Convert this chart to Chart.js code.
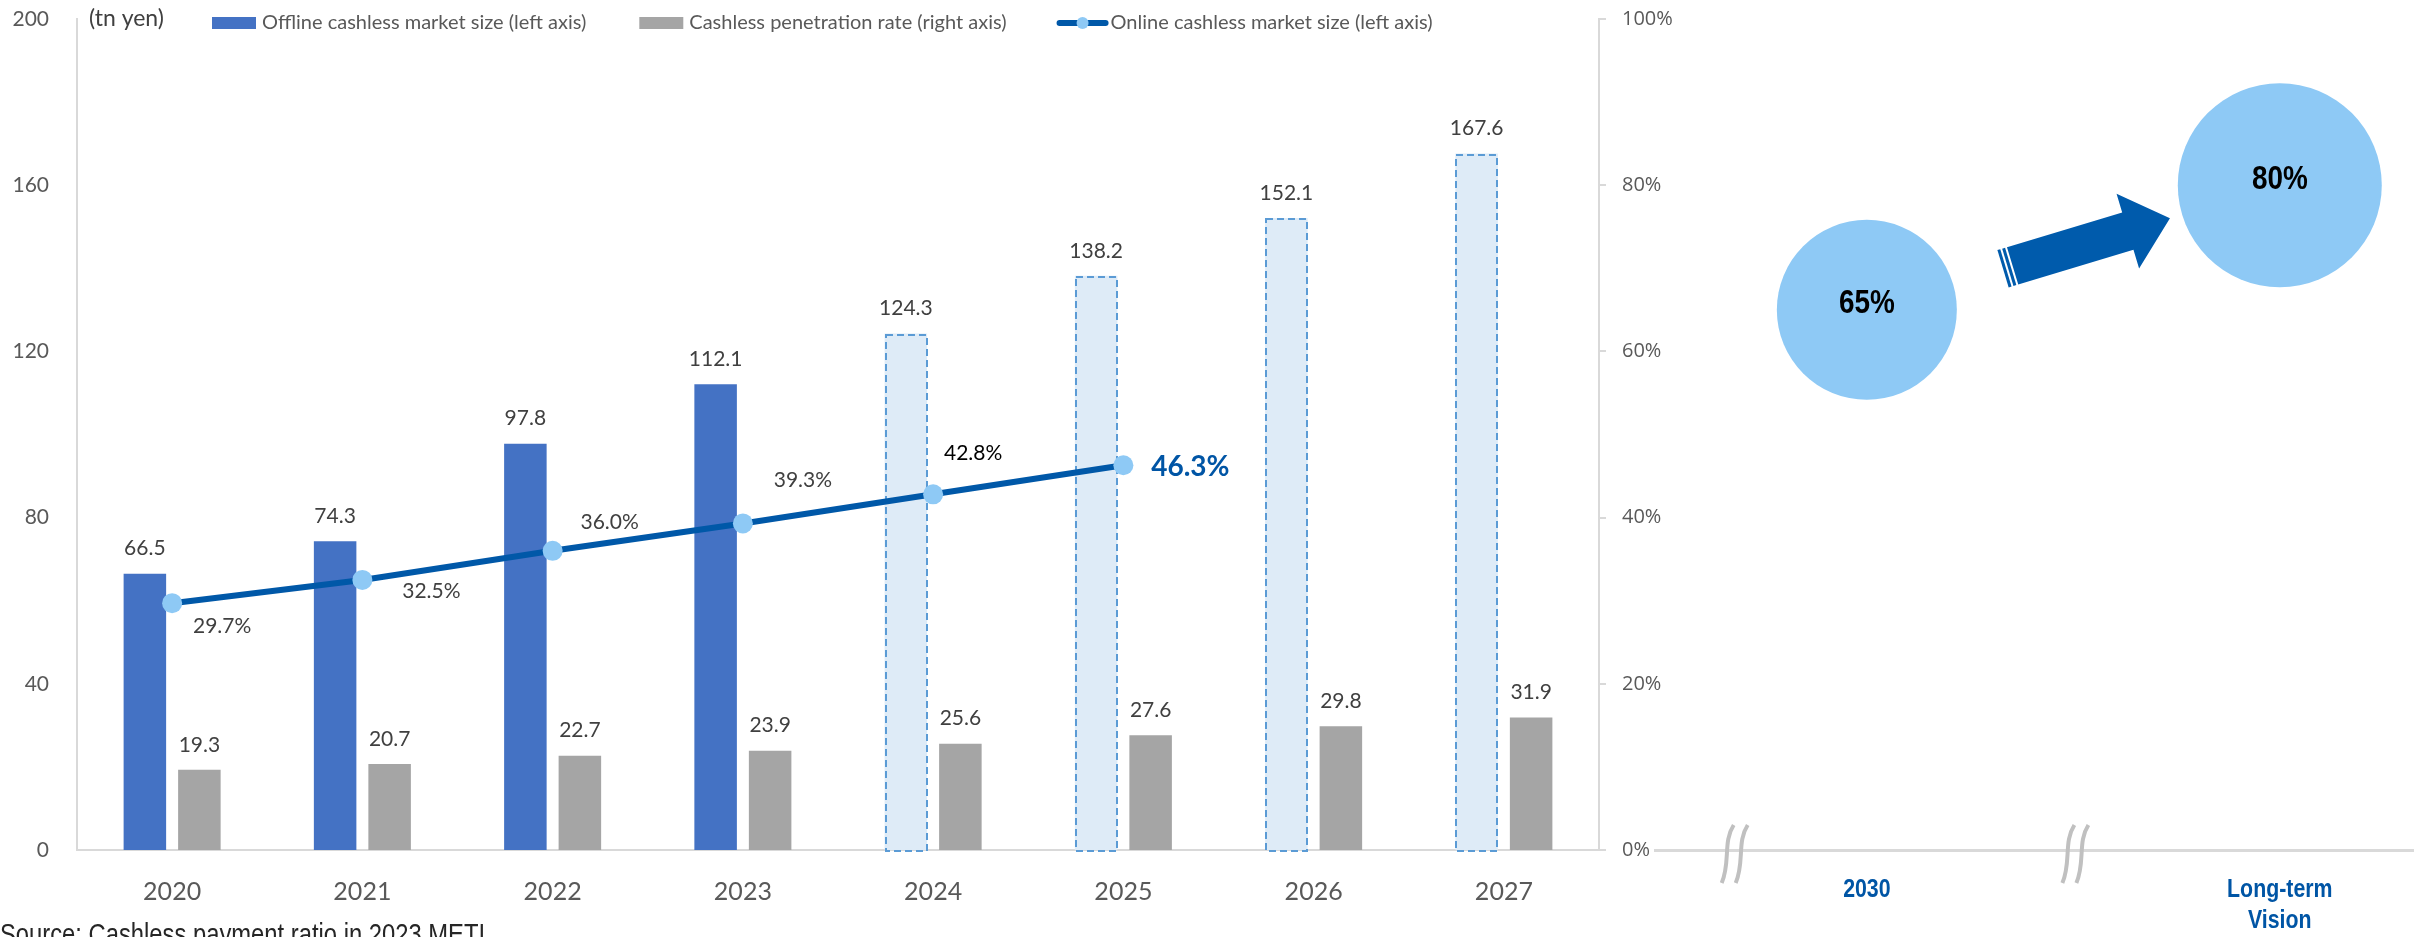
<!DOCTYPE html>
<html>
<head>
<meta charset="utf-8">
<script src="https://cdn.jsdelivr.net/npm/chart.js@4.4.1/dist/chart.umd.min.js"></script>
<style>
html,body{margin:0;padding:0;background:#fff;overflow:hidden;}
#wrap{position:relative;width:2414px;height:937px;background:#fff;}
#c1{position:absolute;left:0;top:0;}
#c2{position:absolute;left:1599px;top:0;}
</style>
</head>
<body>
<div id="wrap">
  <canvas id="c1" width="1700" height="937"></canvas>
  <canvas id="c2" width="815" height="937"></canvas>
</div>
<script>
// ---------------- data ----------------
const years = ['2020','2021','2022','2023','2024','2025','2026','2027'];
const offlineSize = [66.5, 74.3, 97.8, 112.1, 124.3, 138.2, 152.1, 167.6];
const grayBars = [19.3, 20.7, 22.7, 23.9, 25.6, 27.6, 29.8, 31.9];
const onlineRate = [29.7, 32.5, 36.0, 39.3, 42.8, 46.3, null, null];
const firstForecast = '2024';
const leftTicks = [0, 40, 80, 120, 160, 200];
const rightTicks = [0, 20, 40, 60, 80, 100];
const visionCats = ['2030', 'Long-term Vision'];
const visionRate = [65, 80];
const seriesNames = [
  'Offline cashless market size (left axis)',
  'Cashless penetration rate (right axis)',
  'Online cashless market size (left axis)'
];
const unitLabel = '(tn yen)';
const sourceNote = 'Source: Cashless payment ratio in 2023 METI';

// ---------------- styles ----------------
const C = {
  blue:'#4472C4', gray:'#A5A5A5', fcFill:'#DEEBF7', fcBorder:'#5B9BD5',
  line:'#0058A8', point:'#8EC9F5', axis:'#D9D9D9', tick:'#595959',
  label:'#404040', accent:'#0055A5', arrow:'#005BAC', brk:'#C0C0C0'
};
function hasFont(name){
  const c = document.createElement('canvas').getContext('2d');
  const s = 'abcdefghijklmnopqrstuvwxyzABCDEFGHIJ0123456789';
  c.font = '72px monospace'; const a = c.measureText(s).width;
  c.font = `72px "${name}", monospace`; const b = c.measureText(s).width;
  return Math.abs(a-b) > 1;
}
const NARROW_OK = hasFont('Liberation Sans Narrow');
const F = {
  cal: "Lato, 'Open Sans', sans-serif",
  seg: "'Open Sans', Lato, sans-serif",
  narrow: NARROW_OK ? "'Liberation Sans Narrow', 'Liberation Sans', sans-serif" : "'Liberation Sans', Arial, sans-serif",
  k: NARROW_OK ? 1 : 0.82
};
// draw text in a narrow (Arial Narrow-like) face
function narrowText(ctx, text, x, y, size, weight, color, align, baseline){
  ctx.save();
  ctx.translate(x, y);
  ctx.scale(F.k, 1);
  ctx.font = `${weight} ${size}px ${F.narrow}`;
  ctx.fillStyle = color;
  ctx.textAlign = align; ctx.textBaseline = baseline;
  ctx.fillText(text, 0, 0);
  ctx.restore();
}
const fc = years.indexOf(firstForecast);

const LINE_LABEL_STYLE = [
  {dx:50, dy:23, font:`21px ${F.cal}`, color:'#404040'},
  {dx:69, dy:11, font:`21px ${F.cal}`, color:'#404040'},
  {dx:57, dy:-29, font:`21px ${F.cal}`, color:'#404040'},
  {dx:60, dy:-43, font:`21px ${F.cal}`, color:'#404040'},
  {dx:40, dy:-41, font:`21px ${F.cal}`, color:'#000000'},
  {dx:67, dy:2, font:`bold 28px ${F.cal}`, color:C.accent}
];

// ---------------- chart 1 plugin ----------------
const chart1Deco = {
  id:'chart1Deco',
  afterDatasetDraw(chart, args){
    if (args.index !== 0) return;
    const ctx = chart.ctx;
    ctx.save();
    ctx.strokeStyle = C.fcBorder; ctx.lineWidth = 2; ctx.setLineDash([7,4]);
    args.meta.data.forEach((el, i) => {
      if (i < fc) return;
      const p = el.getProps(['x','y','base','width'], true);
      ctx.strokeRect(Math.round(p.x - p.width/2) + 1, Math.round(p.y) + 1, Math.round(p.width) - 2, Math.round(p.base - p.y));
    });
    ctx.restore();
  },
  afterDatasetsDraw(chart){
    const ctx = chart.ctx;
    ctx.save();
    ctx.textAlign = 'center'; ctx.textBaseline = 'middle';
    ctx.font = `21px ${F.cal}`; ctx.fillStyle = C.label;
    [0,1].forEach(di => {
      const meta = chart.getDatasetMeta(di);
      const vals = chart.data.datasets[di].data;
      meta.data.forEach((el, i) => {
        if (vals[i] == null) return;
        ctx.fillText(vals[i].toFixed(1), el.x, el.y - 25);
      });
    });
    const lm = chart.getDatasetMeta(2);
    const lv = chart.data.datasets[2].data;
    lm.data.forEach((el, i) => {
      if (lv[i] == null) return;
      const o = LINE_LABEL_STYLE[i];
      ctx.font = o.font; ctx.fillStyle = o.color;
      ctx.fillText(lv[i].toFixed(1) + '%', el.x + o.dx, el.y + o.dy);
    });
    ctx.restore();
  },
  afterDraw(chart){
    const ctx = chart.ctx;
    ctx.save();
    ctx.textBaseline = 'middle'; ctx.textAlign = 'left';
    ctx.font = `23px ${F.cal}`; ctx.fillStyle = C.label;
    ctx.fillText(unitLabel, 89, 19);
    // legend
    const y = 23;
    let x = 212;
    ctx.font = `20px ${F.cal}`;
    const ds = chart.data.datasets;
    ctx.fillStyle = C.blue; ctx.fillRect(x, y - 6, 44, 12);
    ctx.fillStyle = C.tick; ctx.fillText(ds[0].label, x + 50, y);
    x += 50 + ctx.measureText(ds[0].label).width + 53;
    ctx.fillStyle = C.gray; ctx.fillRect(x, y - 6, 44, 12);
    ctx.fillStyle = C.tick; ctx.fillText(ds[1].label, x + 50, y);
    x += 50 + ctx.measureText(ds[1].label).width + 50;
    ctx.strokeStyle = C.line; ctx.lineWidth = 6; ctx.lineCap = 'round';
    ctx.beginPath(); ctx.moveTo(x + 3, y); ctx.lineTo(x + 49, y); ctx.stroke();
    ctx.fillStyle = C.point; ctx.beginPath(); ctx.arc(x + 26, y, 6, 0, Math.PI*2); ctx.fill();
    ctx.fillStyle = C.tick; ctx.fillText(ds[2].label, x + 54, y);
    ctx.restore();
    // source note
    narrowText(ctx, sourceNote, 0, 944, 29, 'normal', '#262626', 'left', 'alphabetic');
  }
};

new Chart(document.getElementById('c1'), {
  data: {
    labels: years,
    datasets: [
      { type:'bar', label: seriesNames[0], data: offlineSize, yAxisID:'y', order:2,
        backgroundColor: years.map((y,i) => i < fc ? C.blue : C.fcFill), borderWidth:0,
        categoryPercentage:0.573, barPercentage:0.78 },
      { type:'bar', label: seriesNames[1], data: grayBars, yAxisID:'y', order:3,
        backgroundColor: C.gray, borderWidth:0,
        categoryPercentage:0.573, barPercentage:0.78 },
      { type:'line', label: seriesNames[2], data: onlineRate, yAxisID:'y1', order:0,
        borderColor: C.line, borderWidth:6, pointRadius:10, pointHoverRadius:10,
        pointBackgroundColor: C.point, pointBorderWidth:0, fill:false, tension:0, spanGaps:false }
    ]
  },
  options: {
    responsive:false, animation:false, events:[],
    layout:{ autoPadding:false, padding:{ top:19, left:0, right:0, bottom:0 } },
    plugins:{ legend:{display:false}, tooltip:{enabled:false} },
    scales:{
      x:{
        grid:{display:false, drawTicks:false},
        border:{display:true, color:C.axis, width:2},
        ticks:{ font:{family:F.cal, size:25}, color:C.tick, padding:27, maxRotation:0, autoSkip:false },
        afterFit(s){ s.height = 87; }
      },
      y:{
        position:'left', min:0, max:200,
        afterBuildTicks(s){ s.ticks = leftTicks.map(v => ({value:v})); },
        grid:{display:false, drawTicks:false},
        border:{display:true, color:C.axis, width:2},
        ticks:{ font:{family:F.cal, size:21}, color:C.tick, padding:28 },
        afterFit(s){ s.width = 77; s.paddingTop = 0; s.paddingBottom = 0; }
      },
      y1:{
        position:'right', min:0, max:100,
        afterBuildTicks(s){ s.ticks = rightTicks.map(v => ({value:v})); },
        grid:{display:true, drawOnChartArea:false, drawTicks:true, tickLength:7, color:C.axis, lineWidth:2},
        border:{display:true, color:C.axis, width:2},
        ticks:{ font:{family:F.seg, size:20}, color:C.tick, padding:16, callback:v => v + '%' },
        afterFit(s){ s.width = 101; s.paddingTop = 0; s.paddingBottom = 0; }
      }
    }
  },
  plugins:[chart1Deco]
});

// ---------------- chart 2 (2030 / long-term vision) ----------------
const chart2Deco = {
  id:'chart2Deco',
  beforeDatasetsDraw(chart){
    const ctx = chart.ctx, xs = chart.scales.x;
    const ay = xs.top;
    ctx.save();
    ctx.strokeStyle = C.brk; ctx.lineWidth = 4; ctx.lineCap = 'butt';
    [0.18, 1.005].forEach(v => {
      const cx = xs.getPixelForValue(v);
      [-7, 7].forEach(ox => {
        const x0 = cx + ox;
        ctx.beginPath();
        ctx.moveTo(x0 + 6, ay - 25);
        ctx.bezierCurveTo(x0 - 5, ay - 8, x0 + 3, ay + 12, x0 - 6, ay + 33);
        ctx.stroke();
      });
    });
    ctx.restore();
    // category labels (narrow bold)
    visionCats.forEach((c, i) => {
      const px = xs.getPixelForValue(i + 0.5);
      const lines = c.includes(' ') ? c.split(' ') : [c];
      lines.forEach((t, j) => narrowText(ctx, t, px, 890 + j * 31, 26, 'bold', C.accent, 'center', 'middle'));
    });
  },
  afterDatasetsDraw(chart){
    const ctx = chart.ctx;
    const meta = chart.getDatasetMeta(0);
    const p1 = meta.data[0], p2 = meta.data[1];
    const dx = p2.x - p1.x, dy = p2.y - p1.y;
    const L = Math.hypot(dx, dy);
    const ux = dx / L, uy = dy / L, nx = -uy, ny = ux;
    const t0 = 0.353 * L, t1 = 0.734 * L, tb = t1 - 44, hw = 19.5, hh = 39;
    const P = (t, s) => [p1.x + ux*t + nx*s, p1.y + uy*t + ny*s];
    ctx.save();
    ctx.fillStyle = C.arrow;
    const poly = [P(t0,-hw), P(tb,-hw), P(tb,-hh), P(t1,0), P(tb,hh), P(tb,hw), P(t0,hw)];
    ctx.beginPath(); poly.forEach((p,i) => i ? ctx.lineTo(p[0],p[1]) : ctx.moveTo(p[0],p[1])); ctx.closePath(); ctx.fill();
    [[t0-5, t0-2], [t0-10, t0-7]].forEach(([a,b]) => {
      const q = [P(a,-hw), P(b,-hw), P(b,hw), P(a,hw)];
      ctx.beginPath(); q.forEach((p,i) => i ? ctx.lineTo(p[0],p[1]) : ctx.moveTo(p[0],p[1])); ctx.closePath(); ctx.fill();
    });
    ctx.restore();
    const vals = chart.data.datasets[0].data;
    meta.data.forEach((el, i) => narrowText(ctx, vals[i].y + '%', el.x, el.y - 6, 34, 'bold', '#000000', 'center', 'middle'));
  }
};

new Chart(document.getElementById('c2'), {
  type:'scatter',
  data:{
    datasets:[{
      label:'Cashless payment ratio target',
      data: visionRate.map((v, i) => ({x: i + 0.5, y: v})),
      pointRadius:[90, 102], pointHoverRadius:[90, 102],
      backgroundColor: C.point, borderWidth:0, clip:false
    }]
  },
  options:{
    responsive:false, animation:false, events:[],
    layout:{ autoPadding:false, padding:{ top:19, left:56, right:0, bottom:0 } },
    plugins:{ legend:{display:false}, tooltip:{enabled:false} },
    scales:{
      x:{
        type:'linear', min:-0.013, max:1.825,
        afterBuildTicks(s){ s.ticks = visionCats.map((c, i) => ({value: i + 0.5})); },
        grid:{display:false, drawTicks:false},
        border:{display:true, color:C.axis, width:3},
        ticks:{ display:false },
        afterFit(s){ s.height = 87; }
      },
      y:{ display:false, min:0, max:100 }
    }
  },
  plugins:[chart2Deco]
});
</script>
</body>
</html>
